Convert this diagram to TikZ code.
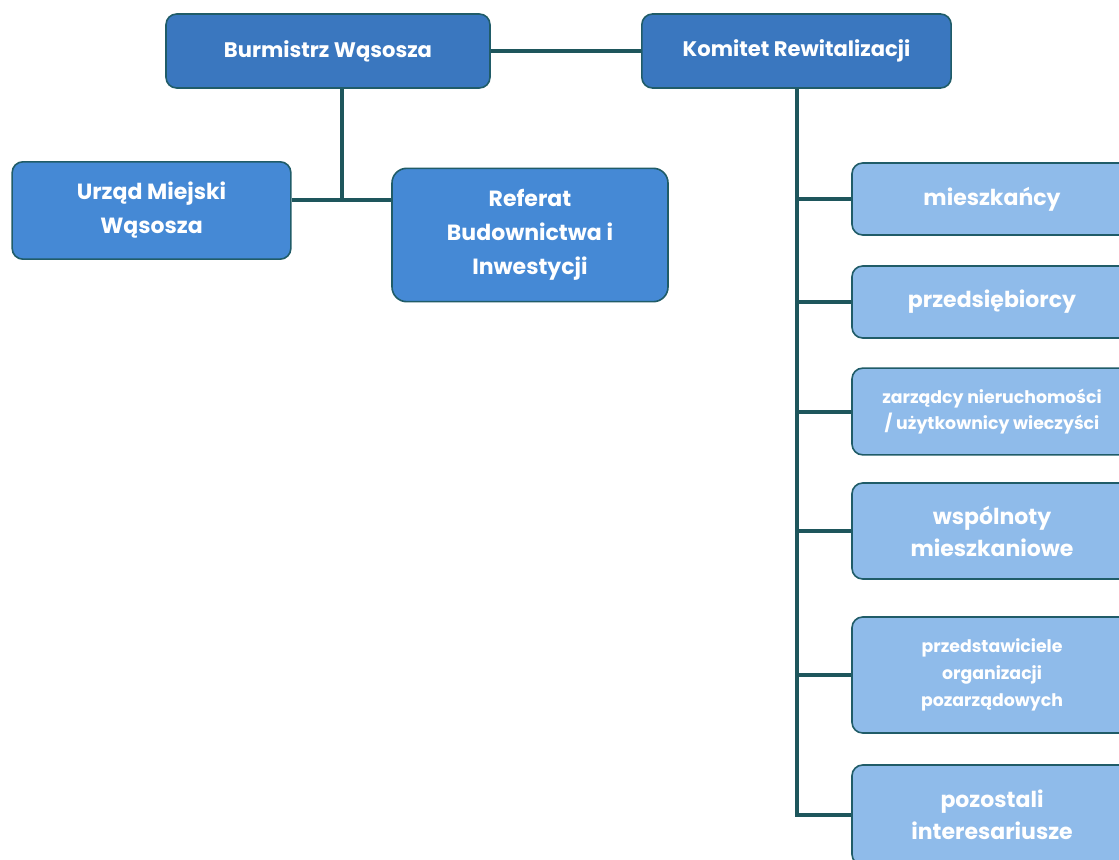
\documentclass[tikz,border=0pt]{standalone}
\usepackage{fontspec}
\setmainfont{Poppins}
\usetikzlibrary{calc}

\definecolor{topblue}{RGB}{58,119,191}
\definecolor{midblue}{RGB}{69,137,213}
\definecolor{paleblue}{RGB}{143,187,234}
\definecolor{boxedge}{RGB}{32,92,104}
\definecolor{linkteal}{RGB}{30,86,92}

\tikzset{
  unit/.style={draw=boxedge, line width=1.2pt, rounded corners=8pt, text=white,
    font=\bfseries, align=center, inner sep=2pt},
  head/.style={unit, fill=topblue, font=\fontsize{15.8}{20}\selectfont\bfseries},
  office/.style={unit, fill=midblue, font=\fontsize{16.5}{25.5}\selectfont\bfseries},
  member/.style={unit, fill=paleblue, minimum width=210pt, font=\fontsize{16.5}{24}\selectfont\bfseries},
  membersmall/.style={member, font=\fontsize{13}{20}\selectfont\bfseries},
  link/.style={draw=linkteal, line width=3pt}
}

\begin{document}
\begin{tikzpicture}[x=0.75pt, y=-0.75pt]

\useasboundingbox (0,0) rectangle (1119,859);
\clip (0,0) rectangle (1119,859);

\node[head, minimum width=243pt, minimum height=55.5pt] (burm) at (328,51) {Burmistrz Wąsosza};
\node[head, minimum width=232pt, minimum height=55.5pt] (komitet) at (796.5,51) {Komitet Rewitalizacji};

\node[office, minimum width=209pt, minimum height=73pt] (urzad) at (151.5,210.5) {Urząd Miejski\\Wąsosza};
\node[office, minimum width=207pt, minimum height=100pt, rounded corners=11pt] (referat) at (530,235) {Referat\\Budownictwa i\\Inwestycji};

\node[member, minimum height=54pt] (m1) at (992,199) {mieszkańcy};
\node[member, minimum height=54pt] (m2) at (992,302) {przedsiębiorcy};
\node[membersmall, minimum height=65pt] (m3) at (992,411.5) {zarządcy nieruchomości\\/ użytkownicy wieczyści};
\node[member, minimum height=72pt] (m4) at (992,531) {wspólnoty\\mieszkaniowe};
\node[membersmall, minimum height=87pt] (m5) at (992,675) {przedstawiciele\\organizacji\\pozarządowych};
\node[member, minimum height=75pt] (m6) at (992,815) {pozostali\\interesariusze};

\coordinate (jb) at (342,200);

% connectors
\draw[link] (burm.east) -- (komitet.west);
\draw[link] (burm.south -| jb) -- (jb);
\draw[link] (urzad.east |- jb) -- (referat.west |- jb);
\draw[link] (komitet.south) -- (komitet.south |- m6.west);
\foreach \m in {m1,m2,m3,m4,m5,m6}
  \draw[link] ($(komitet.south |- \m.west)+(-1.5,0)$) -- (\m.west);

\end{tikzpicture}
\end{document}
